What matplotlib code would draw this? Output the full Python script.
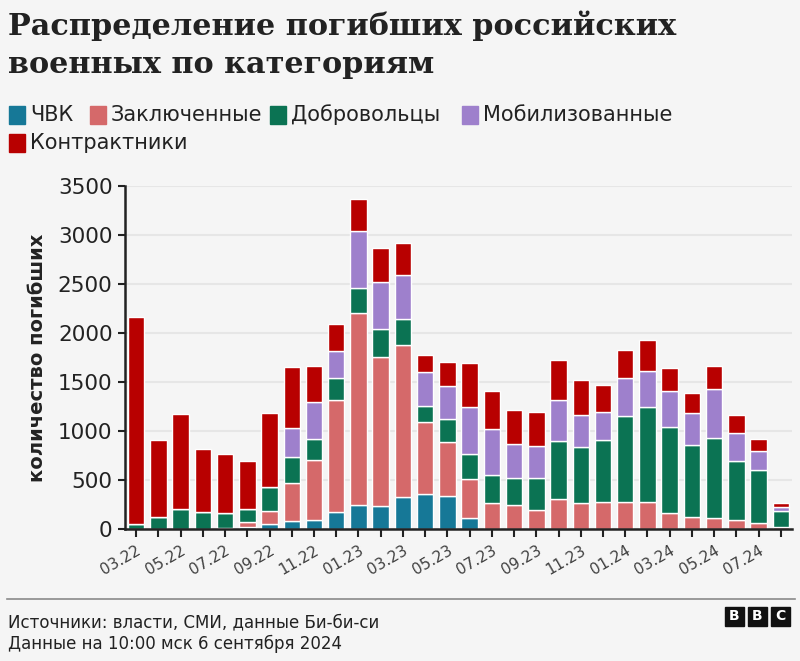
import matplotlib
matplotlib.use('Agg')
import matplotlib.pyplot as plt
from matplotlib.patches import Rectangle
import numpy as np

# месяцы (по столбцу на месяц)
months = ['03.22', '04.22', '05.22', '06.22', '07.22', '08.22', '09.22', '10.22', '11.22', '12.22',
          '01.23', '02.23', '03.23', '04.23', '05.23', '06.23', '07.23', '08.23', '09.23', '10.23',
          '11.23', '12.23', '01.24', '02.24', '03.24', '04.24', '05.24', '06.24', '07.24', '08.24']

chvk = [0, 0, 0, 0, 15, 24, 51, 82, 92, 170, 249, 232, 331, 358, 338, 109, 0, 0, 0, 0,
        0, 0, 0, 0, 0, 0, 0, 0, 0, 0]
zakl = [0, 0, 0, 0, 0, 48, 137, 389, 607, 1150, 1950, 1524, 1548, 733, 545, 399, 263, 249, 191, 310,
        263, 273, 273, 273, 166, 119, 109, 92, 64, 20]
dobr = [55, 120, 205, 177, 145, 133, 245, 259, 222, 221, 263, 283, 259, 167, 239, 259, 283, 276, 331, 587,
        576, 631, 883, 972, 877, 740, 822, 597, 534, 165]
mobil = [0, 0, 0, 0, 0, 0, 0, 296, 378, 273, 573, 481, 454, 345, 334, 478, 474, 341, 320, 423,
         327, 286, 385, 361, 363, 328, 498, 290, 197, 35]
kontr = [2105, 790, 968, 641, 600, 487, 754, 624, 358, 273, 334, 348, 324, 170, 246, 446, 385, 351, 352, 399,
         351, 283, 287, 324, 231, 201, 232, 187, 119, 40]

names = ['ЧВК', 'Заключенные', 'Добровольцы', 'Мобилизованные', 'Контрактники']
colors = ['#167897', '#d5696a', '#0b7353', '#9e80cc', '#b80000']
series = [chvk, zakl, dobr, mobil, kontr]

bg = '#f5f5f5'
fig = plt.figure(figsize=(8, 6.61), dpi=100, facecolor=bg)
ax = fig.add_axes([125 / 800, 1 - 529 / 661, 667 / 800, (529 - 185.7) / 661])
ax.set_facecolor(bg)

x = np.arange(len(months))
bottom = np.zeros(len(months))
for vals, c in zip(series, colors):
    ax.bar(x, vals, bottom=bottom, width=0.74, color=c, edgecolor='white', linewidth=1, zorder=3)
    bottom += np.array(vals)

ax.set_xlim(-0.5, len(months) - 0.5)
ax.set_ylim(0, 3500)
ax.set_yticks(range(0, 3501, 500))
ax.yaxis.grid(True, color='#e6e6e6', linewidth=1.5, zorder=0)
ax.set_axisbelow(True)

for s in ['top', 'right']:
    ax.spines[s].set_visible(False)
for s in ['left', 'bottom']:
    ax.spines[s].set_color('#222222')
    ax.spines[s].set_linewidth(1.8)
    ax.spines[s].set_zorder(4)

ax.set_xticks(x)
ax.set_xticklabels([m if i % 2 == 0 else '' for i, m in enumerate(months)],
                   rotation=30, ha='right', rotation_mode='anchor', fontsize=11, color='#404040')
ax.tick_params(axis='x', length=6, width=1.5, color='#222222', pad=4)
ax.tick_params(axis='y', length=5, width=1.5, color='#222222', labelsize=15.5, labelcolor='#222222', pad=4)
ax.set_ylabel('количество погибших', fontsize=14, fontweight='bold', color='#222222', labelpad=8)

# заголовок
fig.text(8 / 800, 1 - 35 / 661, 'Распределение погибших российских', fontsize=21.8, fontweight='bold',
         family='DejaVu Serif', color='#222222', va='baseline')
fig.text(8 / 800, 1 - 73 / 661, 'военных по категориям', fontsize=21.8, fontweight='bold',
         family='DejaVu Serif', color='#222222', va='baseline')

# легенда
leg_pos = [(9, 115), (90, 115), (270, 115), (462, 115), (9, 143)]
for (lx, ly), n, c in zip(leg_pos, names, colors):
    fig.patches.append(Rectangle((lx / 800, 1 - (ly + 8.5) / 661), 16 / 800, 17 / 661,
                                 transform=fig.transFigure, color=c, figure=fig))
    fig.text((lx + 21) / 800, 1 - ly / 661, n, fontsize=15, color='#222222', va='center')

# подвал
fig.add_artist(plt.Line2D([7 / 800, 795 / 800], [1 - 599 / 661, 1 - 599 / 661],
                          transform=fig.transFigure, color='#8a8a8a', linewidth=1.2))
fig.text(8 / 800, 1 - 627 / 661, 'Источники: власти, СМИ, данные Би-би-си', fontsize=12,
         color='#222222', va='baseline')
fig.text(8 / 800, 1 - 649 / 661, 'Данные на 10:00 мск 6 сентября 2024', fontsize=12,
         color='#222222', va='baseline')

for i, ch in enumerate('BBC'):
    x0 = 725 + i * 23
    fig.patches.append(Rectangle((x0 / 800, 1 - 626 / 661), 19 / 800, 19 / 661,
                                 transform=fig.transFigure, color='#111111', figure=fig))
    fig.text((x0 + 9.5) / 800, 1 - 616.5 / 661, ch, fontsize=10, fontweight='bold', color='white',
             ha='center', va='center')

plt.savefig('out.png', dpi=100, facecolor=bg)
